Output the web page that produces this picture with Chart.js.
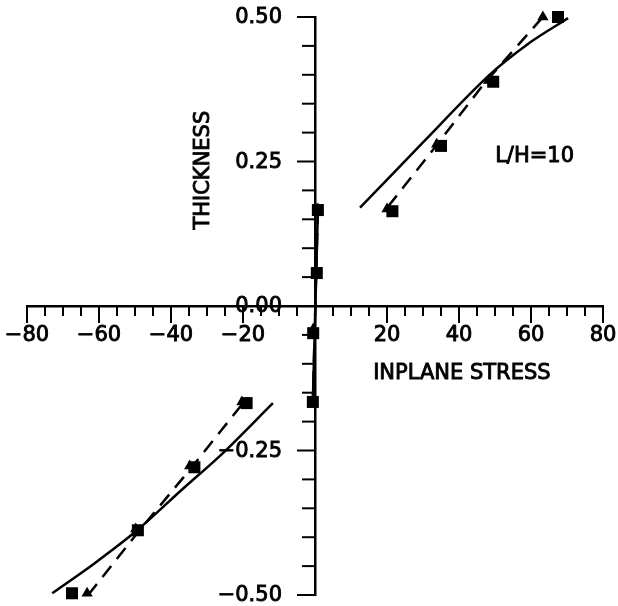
<!DOCTYPE html>
<html>
<head>
<meta charset="utf-8">
<script src="https://cdn.jsdelivr.net/npm/chart.js@4/dist/chart.umd.min.js"></script>
<style>
  html, body { margin: 0; padding: 0; background: #fff; }
  #wrap { width: 618px; height: 606px; }
</style>
</head>
<body>
<div id="wrap"><canvas id="stressChart"></canvas></div>
<script>
// inplane stress through the thickness, L/H = 10
// null breaks the curve between lower face, core and upper face
var solidStress    = [-73, -61, -49.4, -37, -25.5, -11.7, null, 0.8, -0.6, null, 12.5, 30, 47.8, 60, 70.3];
var solidThickness = [-0.497, -0.444, -0.388, -0.318, -0.254, -0.168, null, 0.166, -0.166, null, 0.170, 0.283, 0.396, 0.457, 0.498];

var dashStress    = [-63, -49, -35, -20.5, null, 0.8, -0.6, null, 20.3, 33, 47, 63.3];
var dashThickness = [-0.5, -0.39, -0.285, -0.172, null, 0.166, -0.166, null, 0.172, 0.272, 0.385, 0.5];

var squareStress    = [-67.5, -49.2, -33.5, -19, -0.6, -0.5, 0.5, 0.8, 21.5, 35, 49.5, 67.5];
var squareThickness = [-0.497, -0.388, -0.279, -0.168, -0.166, -0.047, 0.057, 0.166, 0.164, 0.277, 0.388, 0.5];

var triangleStress    = [-63.3, -49.8, -34.8, -20.3, -0.6, -0.5, 0.4, 0.8, 20, 33.8, 48.2, 63.3];
var triangleThickness = [-0.497, -0.386, -0.277, -0.166, -0.166, -0.04, 0.057, 0.168, 0.168, 0.28, 0.39, 0.5];

var stressTicks = [-80, -60, -40, -20, 20, 40, 60, 80];
var thicknessTicks = [-0.5, -0.25, 0, 0.25, 0.5];

function pairs(xs, ys) {
    return xs.map(function (x, i) {
        return { x: x === null ? NaN : x, y: ys[i] === null ? NaN : ys[i] };
    });
}

function fmt(v, digits) {
    var s = Math.abs(v).toFixed(digits);
    return v < 0 ? '\u2212' + s : s;
}

// filled and lightly stroked so the lettering reads as heavy as the lines
function text(ctx, str, x, y) {
    ctx.fillText(str, x, y);
    ctx.strokeText(str, x, y);
}

var FONT = '21px "DejaVu Sans"';

// tick marks, tick labels and captions hung on the crossed axes
var axisMarks = {
    id: 'axisMarks',
    afterDatasetsDraw: function (chart) {
        var ctx = chart.ctx;
        var xs = chart.scales.x, ys = chart.scales.y;
        var x0 = xs.getPixelForValue(0), y0 = ys.getPixelForValue(0);

        ctx.save();
        ctx.strokeStyle = '#000';
        ctx.fillStyle = '#000';
        ctx.lineWidth = 2;
        ctx.font = FONT;

        // stress axis: ticks every 5, long ones every 20
        xs.ticks.forEach(function (t) {
            var px = xs.getPixelForValue(t.value);
            var major = Math.round(t.value) % 20 === 0;
            ctx.beginPath();
            ctx.moveTo(px, y0);
            ctx.lineTo(px, y0 + (major ? 17 : 10));
            ctx.stroke();
        });

        // thickness axis: ticks every 0.05, long ones every 0.25
        ys.ticks.forEach(function (t) {
            var py = ys.getPixelForValue(t.value);
            var major = Math.round(t.value * 100) % 25 === 0;
            ctx.beginPath();
            ctx.moveTo(x0, py);
            ctx.lineTo(x0 - (major ? 18 : 13), py);
            ctx.stroke();
        });

        ctx.lineWidth = 0.9;
        ctx.textAlign = 'center';
        ctx.textBaseline = 'middle';
        stressTicks.forEach(function (v) {
            text(ctx, fmt(v, 0), xs.getPixelForValue(v), y0 + 30);
        });

        ctx.textAlign = 'right';
        thicknessTicks.forEach(function (v) {
            text(ctx, fmt(v, 2), x0 - 33, ys.getPixelForValue(v) + 1);
        });

        // captions
        ctx.textAlign = 'center';
        text(ctx, 'INPLANE STRESS', xs.getPixelForValue(40.8), ys.getPixelForValue(-0.116));
        text(ctx, 'L/H=10', xs.getPixelForValue(61), ys.getPixelForValue(0.258));

        ctx.translate(xs.getPixelForValue(-31), ys.getPixelForValue(0.235));
        ctx.rotate(-Math.PI / 2);
        text(ctx, 'THICKNESS', 0, 0);
        ctx.restore();
    }
};

var ctx = document.getElementById('stressChart');

new Chart(ctx, {
    type: 'scatter',
    data: {
        datasets: [{
            data: pairs(solidStress, solidThickness),
            showLine: true,
            borderColor: '#000',
            borderWidth: 2.5,
            tension: 0.3,
            pointRadius: 0,
            spanGaps: false,
            clip: false
        }, {
            data: pairs(dashStress, dashThickness),
            showLine: true,
            borderColor: '#000',
            borderWidth: 2.5,
            borderDash: [14, 9],
            tension: 0,
            pointRadius: 0,
            spanGaps: false,
            clip: false
        }, {
            data: pairs(triangleStress, triangleThickness),
            pointStyle: 'triangle',
            pointRadius: 6.5,
            backgroundColor: '#000',
            borderColor: '#000',
            borderWidth: 0,
            clip: false
        }, {
            data: pairs(squareStress, squareThickness),
            pointStyle: 'rect',
            pointRadius: 8.5,
            backgroundColor: '#000',
            borderColor: '#000',
            borderWidth: 0,
            clip: false
        }]
    },
    options: {
        responsive: true,
        maintainAspectRatio: false,
        animation: false,
        layout: {
            padding: { left: 27, right: 15, top: 17, bottom: 11 }
        },
        plugins: {
            legend: { display: false },
            tooltip: { enabled: false }
        },
        scales: {
            x: {
                type: 'linear',
                min: -80,
                max: 80,
                position: { y: 0 },
                ticks: { display: false, stepSize: 5 },
                grid: { display: false },
                border: { display: true, color: '#000', width: 2.5 }
            },
            y: {
                type: 'linear',
                min: -0.5,
                max: 0.5,
                position: { x: 0 },
                ticks: { display: false, stepSize: 0.05 },
                grid: { display: false },
                border: { display: true, color: '#000', width: 2.5 }
            }
        }
    },
    plugins: [axisMarks]
});
</script>
</body>
</html>
